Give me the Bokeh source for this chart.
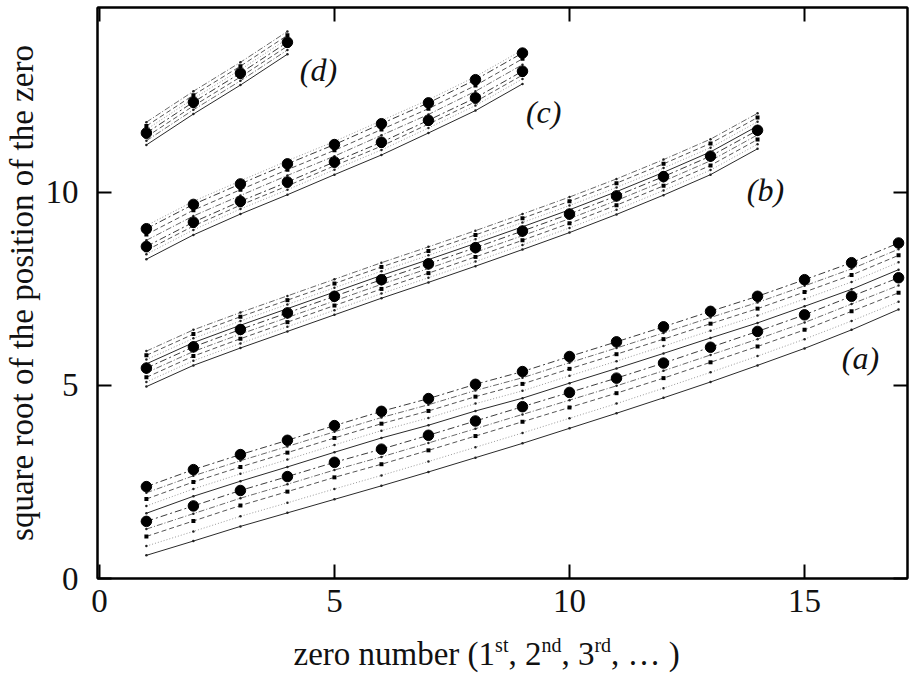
from bokeh.plotting import figure
from bokeh.models import LinearAxis, Label, FixedTicker, Range1d
from bokeh.layouts import column
from bokeh.embed import file_html
from bokeh.resources import INLINE

# ---------------- data ----------------
x_ticks = [0, 5, 10, 15]
y_ticks = [0, 5, 10]

# group (a): zero numbers 1..17
a_x = list(range(1, 18))
a_dot1 = [2.38, 2.82, 3.21, 3.58, 3.96, 4.33, 4.66, 5.03, 5.36, 5.75, 6.13, 6.52, 6.92, 7.31, 7.74, 8.18, 8.69]
a_l1 = [2.22, 2.66, 3.05, 3.42, 3.80, 4.17, 4.50, 4.87, 5.20, 5.59, 5.97, 6.36, 6.76, 7.15, 7.58, 8.02, 8.53]
a_l2 = [2.06, 2.50, 2.89, 3.26, 3.64, 4.01, 4.34, 4.71, 5.04, 5.43, 5.81, 6.20, 6.60, 6.99, 7.42, 7.86, 8.37]
a_l3 = [1.88, 2.32, 2.71, 3.08, 3.46, 3.83, 4.16, 4.53, 4.86, 5.25, 5.63, 6.02, 6.42, 6.81, 7.24, 7.68, 8.19]
a_l4 = [1.69, 2.13, 2.52, 2.89, 3.27, 3.64, 3.97, 4.34, 4.67, 5.06, 5.44, 5.83, 6.23, 6.62, 7.05, 7.49, 8.00]
a_dot2 = [1.48, 1.88, 2.28, 2.64, 3.01, 3.35, 3.71, 4.08, 4.45, 4.82, 5.19, 5.58, 5.99, 6.40, 6.83, 7.31, 7.79]
a_l5 = [1.28, 1.68, 2.08, 2.44, 2.81, 3.15, 3.51, 3.88, 4.25, 4.62, 4.99, 5.38, 5.79, 6.20, 6.63, 7.11, 7.59]
a_l6 = [1.09, 1.49, 1.89, 2.25, 2.62, 2.96, 3.32, 3.69, 4.06, 4.43, 4.80, 5.19, 5.60, 6.01, 6.44, 6.92, 7.40]
a_l7 = [0.84, 1.22, 1.61, 1.96, 2.32, 2.67, 3.03, 3.40, 3.77, 4.15, 4.53, 4.93, 5.34, 5.76, 6.20, 6.67, 7.17]
a_l8 = [0.60, 0.97, 1.35, 1.70, 2.05, 2.40, 2.76, 3.13, 3.50, 3.89, 4.28, 4.68, 5.09, 5.52, 5.96, 6.44, 6.97]

# group (b): zero numbers 1..14
b_x = list(range(1, 15))
b_l1 = [5.89, 6.44, 6.89, 7.32, 7.75, 8.18, 8.59, 9.01, 9.44, 9.88, 10.35, 10.85, 11.38, 12.05]
b_l2 = [5.78, 6.33, 6.78, 7.21, 7.64, 8.07, 8.48, 8.90, 9.33, 9.77, 10.24, 10.74, 11.27, 11.94]
b_l3 = [5.67, 6.22, 6.67, 7.10, 7.53, 7.96, 8.37, 8.79, 9.22, 9.66, 10.13, 10.63, 11.16, 11.83]
b_l4 = [5.56, 6.11, 6.56, 6.99, 7.42, 7.85, 8.26, 8.68, 9.11, 9.55, 10.02, 10.52, 11.05, 11.72]
b_dot = [5.45, 6.00, 6.45, 6.88, 7.31, 7.74, 8.15, 8.57, 9.00, 9.44, 9.91, 10.41, 10.94, 11.61]
b_l5 = [5.33, 5.88, 6.33, 6.76, 7.19, 7.62, 8.03, 8.45, 8.88, 9.32, 9.79, 10.29, 10.82, 11.49]
b_l6 = [5.21, 5.76, 6.21, 6.64, 7.07, 7.50, 7.91, 8.33, 8.76, 9.20, 9.67, 10.17, 10.70, 11.37]
b_l7 = [5.09, 5.64, 6.09, 6.52, 6.95, 7.38, 7.79, 8.21, 8.64, 9.08, 9.55, 10.05, 10.58, 11.25]
b_l8 = [4.97, 5.52, 5.97, 6.40, 6.83, 7.26, 7.67, 8.09, 8.52, 8.96, 9.43, 9.93, 10.46, 11.13]

# group (c): zero numbers 1..9
c_x = list(range(1, 10))
c_l1 = [9.14, 9.77, 10.30, 10.82, 11.32, 11.86, 12.40, 13.00, 13.69]
c_dot1 = [9.06, 9.69, 10.22, 10.74, 11.24, 11.78, 12.32, 12.92, 13.61]
c_l2 = [8.91, 9.54, 10.07, 10.59, 11.09, 11.63, 12.17, 12.77, 13.46]
c_l3 = [8.76, 9.39, 9.92, 10.44, 10.94, 11.48, 12.02, 12.62, 13.31]
c_dot2 = [8.60, 9.23, 9.77, 10.27, 10.79, 11.30, 11.87, 12.45, 13.14]
c_l4 = [8.50, 9.13, 9.67, 10.17, 10.69, 11.20, 11.77, 12.35, 13.04]
c_l5 = [8.40, 9.03, 9.57, 10.07, 10.59, 11.10, 11.67, 12.25, 12.94]
c_l6 = [8.27, 8.90, 9.44, 9.94, 10.46, 10.97, 11.54, 12.12, 12.81]

# group (d): zero numbers 1..4
d_x = list(range(1, 5))
d_l1 = [11.82, 12.62, 13.37, 14.17]
d_l2 = [11.72, 12.52, 13.27, 14.07]
d_l3 = [11.63, 12.43, 13.18, 13.98]
d_dot = [11.54, 12.34, 13.09, 13.89]
d_l4 = [11.44, 12.24, 12.99, 13.79]
d_l5 = [11.34, 12.14, 12.89, 13.69]
d_l6 = [11.23, 12.03, 12.78, 13.58]

group_names = ["(a)", "(b)", "(c)", "(d)"]
y_title = "square root of the position of the zero"
x_title_parts = ["zero number (1", "st", ", 2", "nd", ", 3", "rd", ", \u2026 )"]

# ---------------- styles ----------------
STY = {
    "big": dict(color="#3a3a3a", dash="7 3 2 3", marker="circle", msize=10.5),
    "dd":  dict(color="#6a6a6a", dash="6 2 1 2", marker="dot", msize=2.5),
    "sq":  dict(color="#555555", dash="5 3", marker="square", msize=4),
    "dt":  dict(color="#9a9a9a", dash="1 2", marker="dot", msize=2.5),
    "sol": dict(color="#2a2a2a", dash="solid", marker="dot", msize=2.5),
}

series = [
    (a_x, a_l1, "dd"), (a_x, a_l2, "sq"), (a_x, a_l3, "dt"), (a_x, a_l4, "sol"),
    (a_x, a_l5, "dd"), (a_x, a_l6, "sq"), (a_x, a_l7, "dt"), (a_x, a_l8, "sol"),
    (a_x, a_dot1, "big"), (a_x, a_dot2, "big"),
    (b_x, b_l1, "dd"), (b_x, b_l2, "sq"), (b_x, b_l3, "dt"), (b_x, b_l4, "sol"),
    (b_x, b_l5, "dd"), (b_x, b_l6, "sq"), (b_x, b_l7, "dt"), (b_x, b_l8, "sol"),
    (b_x, b_dot, "big"),
    (c_x, c_l1, "dt"), (c_x, c_l2, "sq"), (c_x, c_l3, "dd"), (c_x, c_l4, "sq"),
    (c_x, c_l5, "dt"), (c_x, c_l6, "sol"), (c_x, c_dot1, "big"), (c_x, c_dot2, "big"),
    (d_x, d_l1, "dd"), (d_x, d_l2, "sq"), (d_x, d_l3, "dt"), (d_x, d_l4, "sq"),
    (d_x, d_l5, "dd"), (d_x, d_l6, "sol"), (d_x, d_dot, "big"),
]

FONT = "Liberation Serif"
INK = "#111111"

p = figure(width=912, height=628, x_range=Range1d(-0.04, 17.19), y_range=Range1d(0, 14.79),
           output_backend="svg", toolbar_location=None,
           min_border_left=97, min_border_right=5, min_border_top=7, min_border_bottom=50)
p.grid.visible = False
p.outline_line_color = "black"
p.outline_line_width = 2
p.background_fill_color = "white"
p.border_fill_color = "white"


def style_axis(ax, ticks, show_labels=True):
    ax.ticker = FixedTicker(ticks=ticks)
    ax.major_tick_in = 14
    ax.major_tick_out = 0
    ax.minor_tick_in = 0
    ax.minor_tick_out = 0
    ax.axis_line_width = 2
    ax.axis_line_color = "black"
    ax.major_tick_line_width = 2
    ax.major_tick_line_color = "black"
    ax.major_label_text_font = FONT
    ax.major_label_text_color = INK
    ax.major_label_text_font_size = "33px"
    if not show_labels:
        ax.major_label_overrides = {t: "" for t in ticks}
        ax.major_label_standoff = 0


style_axis(p.xaxis[0], x_ticks)
p.xaxis[0].major_label_standoff = 11
style_axis(p.yaxis[0], y_ticks)
p.yaxis[0].major_label_standoff = 19
p.yaxis[0].axis_label = y_title
p.yaxis[0].axis_label_text_font = FONT
p.yaxis[0].axis_label_text_font_size = "33px"
p.yaxis[0].axis_label_text_font_style = "normal"
p.yaxis[0].axis_label_text_color = INK
p.yaxis[0].axis_label_standoff = 3

top_ax = LinearAxis()
style_axis(top_ax, x_ticks, show_labels=False)
p.add_layout(top_ax, "above")
right_ax = LinearAxis()
style_axis(right_ax, y_ticks, show_labels=False)
p.add_layout(right_ax, "right")

# draw bands
for xs, ys, key in series:
    s = STY[key]
    p.line(xs, ys, line_color=s["color"], line_width=1, line_dash=s["dash"])
for xs, ys, key in series:
    s = STY[key]
    if s["marker"] == "circle":
        p.scatter(xs, ys, marker="circle", size=s["msize"], fill_color="black", line_color="black")
    elif s["marker"] == "square":
        p.scatter(xs, ys, marker="square", size=s["msize"], fill_color="black", line_color=None)
    else:
        p.scatter(xs, ys, marker="circle", size=s["msize"], fill_color="#222222", line_color=None)

# group labels
lab_pos = [(16.19, 5.72), (14.17, 10.07), (9.45, 12.09), (4.66, 13.18)]
for name, (lx, ly) in zip(group_names, lab_pos):
    p.add_layout(Label(x=lx, y=ly, text=name, text_font=FONT, text_font_size="32px",
                       text_font_style="italic", text_align="center", text_baseline="middle",
                       text_color=INK))

# x-axis title (own strip below the plot so the superscripts are real text);
# the strip's frame is aligned with the main frame (97..907 px), so its
# x range is expressed in page pixels.
p2 = figure(width=912, height=45, x_range=Range1d(97, 907), y_range=Range1d(0, 45),
            output_backend="svg", toolbar_location=None, min_border=0, title=None,
            x_axis_type=None, y_axis_type=None)
p2.grid.visible = False
p2.outline_line_color = None
p2.background_fill_color = "white"
p2.border_fill_color = "white"

widths = [6.109 * 33, 0.667 * 20, 1.0 * 33, 1.0 * 20, 1.0 * 33, 0.833 * 20, 2.083 * 33]
off = 293.0
for i, (part, w) in enumerate(zip(x_title_parts, widths)):
    sup = (i % 2 == 1)
    p2.add_layout(Label(x=off, y=(29 if sup else 20), text=part,
                        text_font=FONT, text_font_size=("20px" if sup else "33px"),
                        text_align="left", text_baseline="middle", text_color=INK))
    off += w

layout = column(p, p2, spacing=0)
open("out.html", "w").write(file_html(layout, INLINE))
